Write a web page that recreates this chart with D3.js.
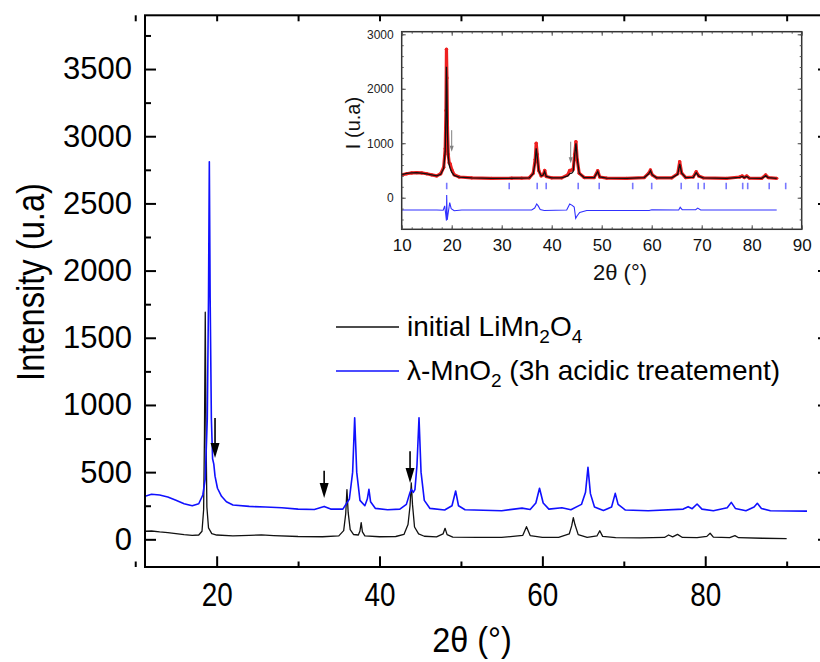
<!DOCTYPE html>
<html><head><meta charset="utf-8">
<script src="https://cdn.jsdelivr.net/npm/d3@7"></script>
<style>
body{margin:0;background:#fff}
text{font-family:"Liberation Sans",Arial,sans-serif}
</style>
</head><body>
<svg id="chart" width="820" height="662"></svg>
<script>
// ---------- DATA ----------
// main chart: [2theta, intensity]
const liMn2O4 = [
[11.2,60],[12,62],[13,55],[14,50],[15,42],[16,35],[17,30],[17.8,32],[18.2,60],[18.4,220],[18.5,760],[18.6,1690],[18.7,760],[18.8,240],[19.0,85],[19.4,42],[20,32],[22,26],[24,29],[25.5,33],[27,28],[30,21],[33,19],[35,26],[35.6,65],[35.85,190],[36.0,370],[36.15,200],[36.4,72],[36.8,36],[37.4,32],[37.6,62],[37.75,124],[37.9,56],[38.2,26],[40,19],[42,21],[43,36],[43.5,110],[43.75,250],[43.9,420],[44.05,260],[44.3,92],[44.8,40],[45.5,23],[47,18],[47.8,40],[48.05,82],[48.3,35],[49,16],[52,14],[55,14],[57.6,30],[58.05,94],[58.5,28],[60,14],[62,15],[63.3,40],[63.6,100],[63.8,161],[64.0,110],[64.4,35],[65.5,14],[66.7,25],[67.05,64],[67.4,22],[69,12],[72,11],[75,14],[75.5,32],[76.0,18],[76.6,37],[77.2,14],[79,12],[80.2,22],[80.6,45],[81.0,16],[83,13],[83.65,27],[84.1,12],[87,8],[90,5]
];
const lambdaMnO2 = [
[11.2,320],[12,335],[13,330],[14,315],[15,290],[16,265],[17,250],[17.8,265],[18.3,330],[18.6,450],[18.85,900],[19.0,1800],[19.1,2810],[19.2,1800],[19.35,900],[19.5,600],[19.65,560],[19.8,470],[20.1,380],[20.6,320],[21.2,280],[22,255],[24,245],[26,240],[28,235],[30,225],[32,222],[33.2,245],[34,225],[35.5,225],[36.3,300],[36.7,500],[36.95,905],[37.2,500],[37.6,290],[38.2,250],[38.5,300],[38.7,372],[38.9,280],[39.5,230],[41,220],[42.5,225],[43.3,260],[43.7,340],[43.9,372],[44.15,350],[44.35,370],[44.6,550],[44.85,905],[45.1,500],[45.5,290],[46.2,230],[48,218],[48.9,250],[49.35,360],[49.7,250],[50.5,220],[55,213],[57.5,232],[58.5,222],[59.2,270],[59.65,380],[60.1,270],[60.8,225],[62.4,235],[63.5,220],[64.8,260],[65.3,350],[65.6,536],[65.9,340],[66.4,240],[67.5,215],[68.5,240],[68.95,342],[69.3,260],[70.2,218],[73,213],[77.3,225],[77.9,243],[78.4,228],[79.0,263],[79.6,225],[81,213],[82.7,235],[83.2,275],[83.7,230],[85,213],[86,240],[86.4,268],[86.9,230],[88,213],[92.5,210]
];
// arrows: [2theta, tail intensity, tip intensity]
const mainArrows = [[19.8,903,605],[33.2,510,307],[43.75,655,419]];
const mainXTicks = [20,40,60,80];
const mainXMinor = [10,30,50,70,90];
const mainYTicks = [0,500,1000,1500,2000,2500,3000,3500];
const mainYMinor = [250,750,1250,1750,2250,2750,3250,3750];
const legendLabels = ["initial LiMn2O4","λ-MnO2 (3h acidic treatement)"];

// inset: Rietveld refinement
const insetObs = [
[10,420],[11,440],[12,455],[13,460],[14,455],[15,440],[16,420],[17,400],[17.8,440],[18.4,560],[18.7,900],[18.85,1600],[18.95,2725],[19.05,2200],[19.15,1300],[19.3,800],[19.5,640],[19.7,620],[20.0,520],[20.5,420],[21.5,380],[24,365],[28,355],[32,358],[34,360],[35.5,365],[36.3,450],[36.7,700],[36.9,999],[37.1,800],[37.4,500],[37.9,400],[38.3,420],[38.6,500],[38.9,390],[40,365],[42,365],[43.2,420],[43.6,500],[44.0,510],[44.3,520],[44.6,800],[44.85,1028],[45.1,700],[45.5,450],[46.5,370],[48.5,370],[49.2,496],[49.6,380],[51,360],[55,355],[58.5,370],[59.4,450],[59.75,508],[60.1,420],[61,365],[64,365],[65.2,440],[65.6,661],[66.0,450],[66.8,370],[68.3,380],[68.9,477],[69.4,400],[70.3,365],[75,355],[77.6,380],[78.1,398],[78.5,370],[79.0,398],[79.5,360],[82,355],[82.8,417],[83.3,370],[85,355]
];
const insetCalc = [
[10,425],[11,445],[12,455],[13,458],[14,452],[15,438],[16,418],[17,400],[17.8,430],[18.4,540],[18.7,850],[18.85,1500],[18.95,2405],[19.05,2000],[19.15,1200],[19.3,760],[19.5,600],[19.7,540],[20.0,470],[20.5,410],[21.5,378],[24,363],[28,355],[32,357],[34,360],[35.5,365],[36.3,440],[36.7,660],[36.9,907],[37.1,760],[37.4,500],[37.9,400],[38.3,415],[38.6,480],[38.9,390],[40,365],[42,365],[43.2,400],[43.6,440],[44.0,450],[44.3,480],[44.6,780],[44.85,1000],[45.1,720],[45.5,450],[46.5,370],[48.5,370],[49.2,480],[49.6,380],[51,360],[55,355],[58.5,370],[59.4,440],[59.75,495],[60.1,420],[61,365],[64,365],[65.2,430],[65.6,620],[66.0,450],[66.8,370],[68.3,375],[68.9,460],[69.4,395],[70.3,365],[75,355],[77.6,375],[78.1,390],[78.5,368],[79.0,390],[79.5,360],[82,355],[82.8,405],[83.3,368],[85,355]
];
const insetDiff = [
[10,-226],[17,-226],[18.3,-230],[18.6,-150],[18.8,-300],[18.95,-420],[19.0,50],[19.1,-410],[19.3,-280],[19.6,-90],[19.9,-200],[20.5,-240],[22,-226],[36,-226],[36.6,-190],[37.0,-115],[37.3,-150],[37.7,-215],[38.5,-235],[43,-226],[43.6,-115],[44.1,-140],[44.5,-170],[44.8,-378],[45.1,-330],[45.6,-270],[47,-235],[59.5,-235],[60,-222],[65.4,-226],[65.7,-176],[66.1,-220],[68.8,-220],[69.2,-190],[69.8,-225],[85,-226]
];
const braggPositions = [19.0,31.5,37.1,38.9,45.3,49.5,56.2,60.0,65.9,69.3,70.5,74.9,78.2,79.2,83.5,86.8];
const braggRange = [154,275];
const insetArrows = [[20.0,1240,842],[43.8,1028,632]];
const insetXTicks = [10,20,30,40,50,60,70,80,90];
const insetYTicks = [0,1000,2000,3000];

// ---------- DRAWING ----------
const svg = d3.select("#chart");
svg.append("rect").attr("width",820).attr("height",662).attr("fill","#fff");

const x = d3.scaleLinear().domain([11.2,95.2]).range([145,829]);
const y = d3.scaleLinear().domain([-206,3900]).range([567,15.3]);

svg.append("clipPath").attr("id","clipMain").append("rect")
  .attr("x",145).attr("y",15.3).attr("width",684).attr("height",551.7);

const line = d3.line().x(d=>x(d[0])).y(d=>y(d[1]));
const curves = svg.append("g").attr("clip-path","url(#clipMain)");
curves.append("path").datum(liMn2O4).attr("d",line).attr("fill","none")
  .attr("stroke","#111").attr("stroke-width",1.3).attr("stroke-linejoin","round");
curves.append("path").datum(lambdaMnO2).attr("d",line).attr("fill","none")
  .attr("stroke","#1010ff").attr("stroke-width",1.6).attr("stroke-linejoin","round");

// arrows
function drawArrow(g, sx, sy, a, hw, hl, color, sw){
  const xp = sx(a[0]), y0 = sy(a[1]), y1 = sy(a[2]);
  g.append("line").attr("x1",xp).attr("x2",xp).attr("y1",y0).attr("y2",y1-hl+1)
    .attr("stroke",color).attr("stroke-width",sw);
  g.append("path").attr("d",`M${xp-hw},${y1-hl} L${xp+hw},${y1-hl} L${xp},${y1} Z`).attr("fill",color);
}
const arrowG = svg.append("g");
mainArrows.forEach(a=>drawArrow(arrowG,x,y,a,4.5,15,"#000",1.6));

// frame
svg.append("rect").attr("x",145).attr("y",15.3).attr("width",684).attr("height",551.7)
  .attr("fill","none").attr("stroke","#000").attr("stroke-width",2);

function styleAxis(g, sw, col){
  g.select(".domain").remove();
  g.selectAll("line").attr("stroke",col).attr("stroke-width",sw);
}
// bottom
const gb = svg.append("g").attr("transform","translate(0,567)")
  .call(d3.axisBottom(x).tickValues(mainXTicks).tickSize(-10.7).tickPadding(15).tickFormat(d3.format("d")));
styleAxis(gb,2,"#000");
gb.selectAll("text").attr("font-size",34).attr("fill","#000").attr("font-family","Liberation Sans, Arial")
  .attr("transform","scale(0.82,1)");
styleAxis(svg.append("g").attr("transform","translate(0,567)")
  .call(d3.axisBottom(x).tickValues(mainXMinor).tickSize(-5.5).tickFormat("")),2,"#000");
// top
styleAxis(svg.append("g").attr("transform","translate(0,15.3)")
  .call(d3.axisTop(x).tickValues(mainXTicks.concat(mainXMinor)).tickSize(-6).tickFormat("")),2,"#000");
// left
const gl = svg.append("g").attr("transform","translate(145,0)")
  .call(d3.axisLeft(y).tickValues(mainYTicks).tickSize(-11).tickPadding(13).tickFormat(d3.format("d")));
styleAxis(gl,2,"#000");
gl.selectAll("text").attr("font-size",31).attr("fill","#000").attr("font-family","Liberation Sans, Arial");
styleAxis(svg.append("g").attr("transform","translate(145,0)")
  .call(d3.axisLeft(y).tickValues(mainYMinor).tickSize(-6).tickFormat("")),2,"#000");
// right
styleAxis(svg.append("g").attr("transform","translate(829,0)")
  .call(d3.axisRight(y).tickValues(mainYTicks).tickSize(-11).tickFormat("")),2,"#000");
styleAxis(svg.append("g").attr("transform","translate(829,0)")
  .call(d3.axisRight(y).tickValues(mainYMinor).tickSize(-6).tickFormat("")),2,"#000");

// axis titles
svg.append("text").attr("transform","translate(44,282) rotate(-90) scale(0.86,1)")
  .attr("text-anchor","middle").attr("font-size",38).attr("fill","#000").text("Intensity (u.a)");
svg.append("text").attr("transform","translate(472,652) scale(0.9,1)")
  .attr("text-anchor","middle").attr("font-size",36).attr("fill","#000").text("2θ (°)");

// legend
const leg = svg.append("g");
const legColors = ["#111","#1010ff"];
const legY = [327,371];
function subText(t, str){
  const parts = str.match(/([A-Za-zλ\-]+|\d+|[^A-Za-zλ\-\d]+)/g);
  let prevSub = false;
  parts.forEach((p,i)=>{
    const isNum = /^\d+$/.test(p) && i>0 && /[A-Za-z]$/.test(parts[i-1]) && !/\(/.test(parts[i-1]);
    const ts = t.append("tspan").text(p);
    if(isNum){ ts.attr("font-size",19).attr("dy",prevSub?0:7); prevSub=true; }
    else { if(prevSub){ ts.attr("dy",-7);} prevSub=false; }
  });
}
legendLabels.forEach((lab,i)=>{
  leg.append("line").attr("x1",336).attr("x2",399).attr("y1",legY[i]).attr("y2",legY[i])
    .attr("stroke",legColors[i]).attr("stroke-width",1.3);
  const t = leg.append("text").attr("x",407).attr("y",legY[i]+9).attr("font-size",28).attr("fill","#000");
  subText(t, lab);
});

// ---------- INSET ----------
const xi = d3.scaleLinear().domain([10,90]).range([401.7,801.7]);
const yi = d3.scaleLinear().domain([-580,3048]).range([229.3,31.7]);
const ins = svg.append("g");
ins.append("rect").attr("x",401.7).attr("y",31.7).attr("width",400).attr("height",197.6).attr("fill","#fff");
svg.append("clipPath").attr("id","clipIns").append("rect")
  .attr("x",401.7).attr("y",31.7).attr("width",400).attr("height",197.6);
const lineI = d3.line().x(d=>xi(d[0])).y(d=>yi(d[1]));
const ic = ins.append("g").attr("clip-path","url(#clipIns)");
ic.append("path").datum(insetObs).attr("d",lineI).attr("fill","none").attr("stroke","#ee2020").attr("stroke-width",3.2).attr("stroke-linejoin","round");
ic.selectAll("circle.obs").data(insetObs).join("circle").attr("class","obs")
  .attr("cx",d=>xi(d[0])).attr("cy",d=>yi(d[1])).attr("r",1.7).attr("fill","#ee2020");
ic.append("path").datum(insetCalc).attr("d",lineI).attr("fill","none").attr("stroke","#111").attr("stroke-width",1.3);
ic.selectAll("line.bragg").data(braggPositions).join("line").attr("class","bragg")
  .attr("x1",d=>xi(d)).attr("x2",d=>xi(d)).attr("y1",yi(braggRange[0])).attr("y2",yi(braggRange[1]))
  .attr("stroke","#7878ff").attr("stroke-width",1.6);
ic.append("path").datum(insetDiff).attr("d",lineI).attr("fill","none").attr("stroke","#3030ff").attr("stroke-width",1.1);
insetArrows.forEach(a=>drawArrow(ins,xi,yi,a,2,6,"#808080",1));

ins.append("rect").attr("x",401.7).attr("y",31.7).attr("width",400).attr("height",197.6)
  .attr("fill","none").attr("stroke","#333").attr("stroke-width",1.5);
const insMinorX = d3.range(10,91,2);
const insMinorY = d3.range(-400,3001,200);
const gib = ins.append("g").attr("transform","translate(0,229.3)")
  .call(d3.axisBottom(xi).tickValues(insetXTicks).tickSize(-4).tickPadding(10).tickFormat(d3.format("d")));
styleAxis(gib,1,"#444");
gib.selectAll("text").attr("font-size",17).attr("fill","#111");
styleAxis(ins.append("g").attr("transform","translate(0,229.3)").call(d3.axisBottom(xi).tickValues(insMinorX).tickSize(-2).tickFormat("")),1,"#555");
styleAxis(ins.append("g").attr("transform","translate(0,31.7)").call(d3.axisTop(xi).tickValues(insetXTicks).tickSize(-4).tickFormat("")),1,"#444");
styleAxis(ins.append("g").attr("transform","translate(0,31.7)").call(d3.axisTop(xi).tickValues(insMinorX).tickSize(-2).tickFormat("")),1,"#555");
const gil = ins.append("g").attr("transform","translate(401.7,0)")
  .call(d3.axisLeft(yi).tickValues(insetYTicks).tickSize(-4).tickPadding(8).tickFormat(d3.format("d")));
styleAxis(gil,1,"#444");
gil.selectAll("text").attr("font-size",12).attr("fill","#222");
styleAxis(ins.append("g").attr("transform","translate(401.7,0)").call(d3.axisLeft(yi).tickValues(insMinorY).tickSize(-2).tickFormat("")),1,"#555");
styleAxis(ins.append("g").attr("transform","translate(801.7,0)").call(d3.axisRight(yi).tickValues(insetYTicks).tickSize(-4).tickFormat("")),1,"#444");
styleAxis(ins.append("g").attr("transform","translate(801.7,0)").call(d3.axisRight(yi).tickValues(insMinorY).tickSize(-2).tickFormat("")),1,"#555");

ins.append("text").attr("transform","translate(360,123) rotate(-90)").attr("text-anchor","middle")
  .attr("font-size",20).attr("fill","#111").text("I (u.a)");
ins.append("text").attr("x",620).attr("y",280).attr("text-anchor","middle")
  .attr("font-size",22).attr("fill","#111").text("2θ (°)");
</script>
</body></html>
